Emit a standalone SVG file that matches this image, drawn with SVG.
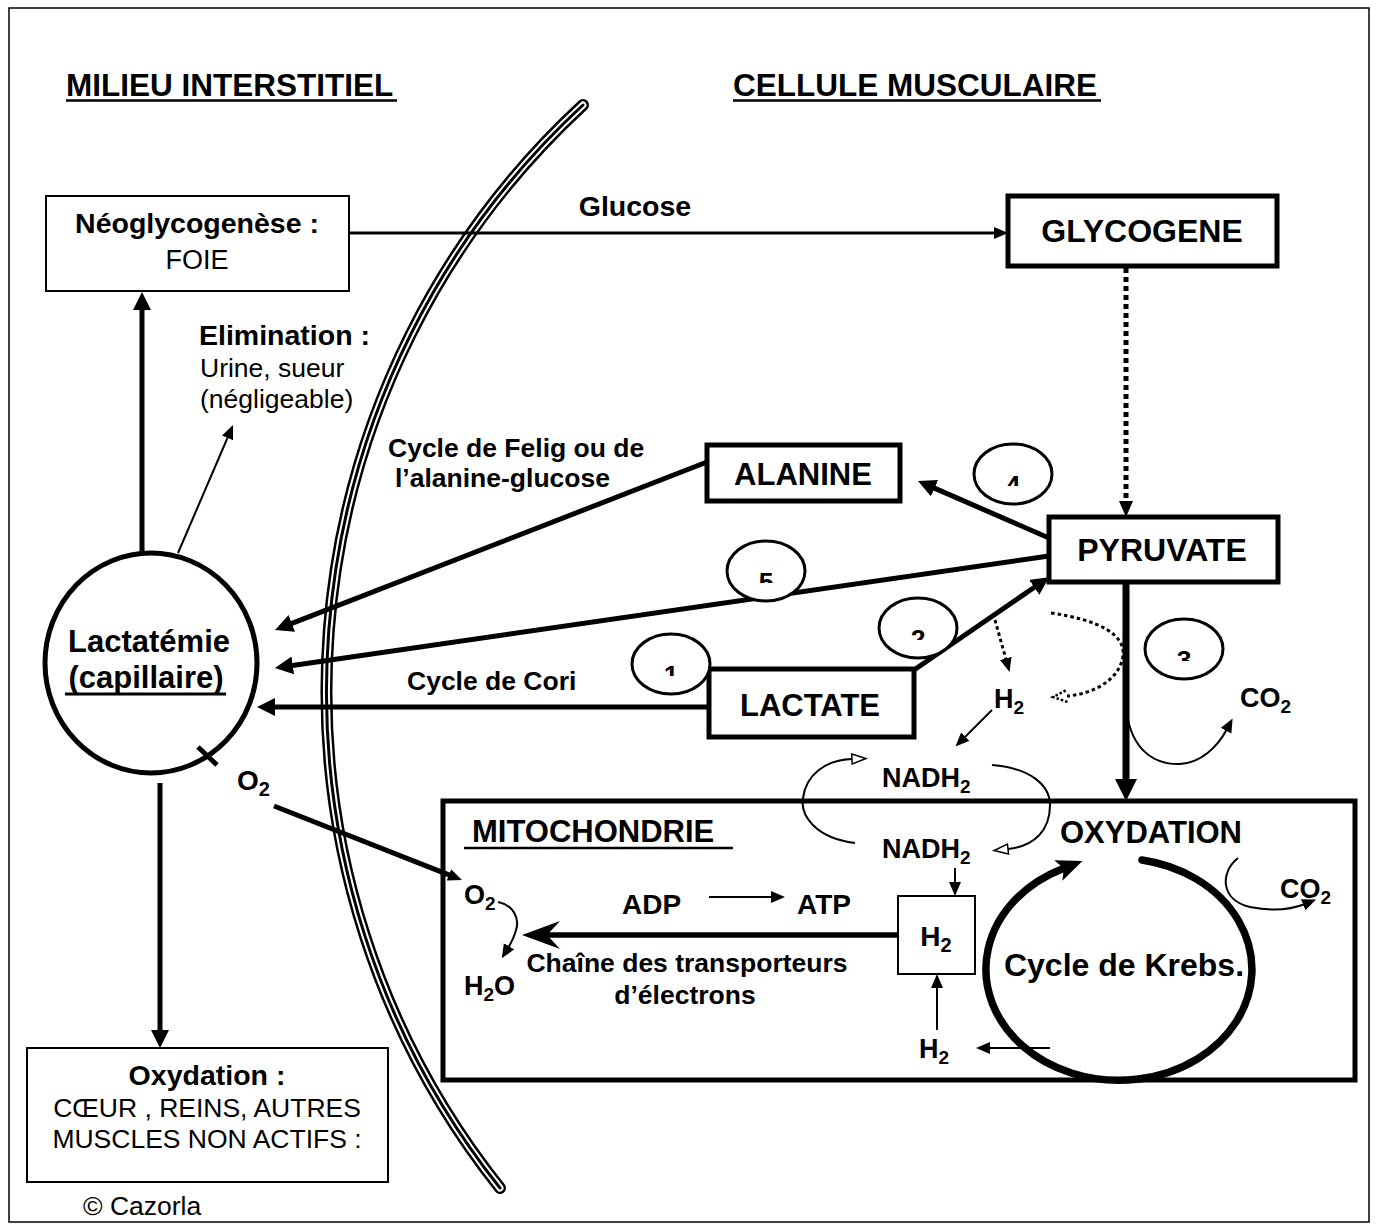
<svg xmlns="http://www.w3.org/2000/svg" width="1377" height="1230" viewBox="0 0 1377 1230">
<style>
text{font-family:"Liberation Sans",Arial,sans-serif;fill:#000}
.b{font-weight:bold}
.t{font-size:31.5px;font-weight:bold}
.n{font-size:31px;font-weight:bold}
.m{font-size:28.5px;font-weight:bold}
.s{font-size:26.5px;font-weight:bold}
.r{font-size:26.5px}
.bx{fill:#fff;stroke:#000;stroke-width:5}
.bt{fill:#fff;stroke:#000;stroke-width:2}
.ln{fill:none;stroke:#000}
.num{fill:#fff;stroke:#000;stroke-width:3}
</style>
<defs>
<marker id="a5" markerUnits="userSpaceOnUse" markerWidth="20" markerHeight="20" refX="2" refY="9" orient="auto"><path d="M0,0 L18,9 L0,18 z"/></marker>
<marker id="a7" markerUnits="userSpaceOnUse" markerWidth="24" markerHeight="24" refX="2" refY="11" orient="auto"><path d="M0,0 L22,11 L0,22 z"/></marker>
<marker id="as" markerUnits="userSpaceOnUse" markerWidth="16" markerHeight="14" refX="2" refY="6" orient="auto"><path d="M0,0 L14,6 L0,12 z"/></marker>
<marker id="ad" markerUnits="userSpaceOnUse" markerWidth="18" markerHeight="16" refX="2" refY="7" orient="auto"><path d="M0,0 L16,7 L0,14 z"/></marker>
<marker id="ak" markerUnits="userSpaceOnUse" markerWidth="30" markerHeight="26" refX="4" refY="11" orient="auto"><path d="M0,0 L26,11 L0,22 L6,11 z"/></marker>
<marker id="ho" markerUnits="userSpaceOnUse" markerWidth="18" markerHeight="14" refX="1" refY="6" orient="auto"><path d="M1,1 L15,6 L1,11 z" fill="#fff" stroke="#000" stroke-width="1.5"/></marker>
<marker id="hd" markerUnits="userSpaceOnUse" markerWidth="18" markerHeight="16" refX="1" refY="7" orient="auto"><path d="M1,1 L15,7 L1,13" fill="none" stroke="#000" stroke-width="2.5" stroke-dasharray="2.5,2"/></marker>
<clipPath id="c4"><rect x="960" y="430" width="110" height="56"/></clipPath>
<clipPath id="c5"><rect x="710" y="530" width="110" height="53"/></clipPath>
<clipPath id="c2"><rect x="860" y="590" width="110" height="50"/></clipPath>
<clipPath id="c1"><rect x="620" y="630" width="110" height="46"/></clipPath>
<clipPath id="c3"><rect x="1130" y="610" width="110" height="51"/></clipPath>
</defs>

<rect x="9" y="8" width="1360" height="1214" fill="#fff" stroke="#000" stroke-width="1.5"/>

<g id="membrane">
<path d="M583,105 A798,798 0 0 0 500,1188" fill="none" stroke="#000" stroke-width="12" stroke-linecap="round"/>
<path d="M583,105 A798,798 0 0 0 500,1188" fill="none" stroke="#fff" stroke-width="7" stroke-linecap="round"/>
<path d="M583,105 A798,798 0 0 0 500,1188" fill="none" stroke="#000" stroke-width="3" stroke-linecap="round"/>
</g>

<g id="titles">
<text class="t" x="66" y="96">MILIEU INTERSTITIEL</text>
<line x1="66" y1="100.5" x2="397" y2="100.5" stroke="#000" stroke-width="2.5"/>
<text class="t" x="733" y="96">CELLULE MUSCULAIRE</text>
<line x1="733" y1="100.5" x2="1101" y2="100.5" stroke="#000" stroke-width="2.5"/>
</g>

<g id="mitochondrie">
<rect class="bx" x="443" y="801" width="912" height="279"/>
<text class="n" x="472" y="842">MITOCHONDRIE</text>
<line x1="464" y1="848" x2="733" y2="848" stroke="#000" stroke-width="2.5"/>
<text class="n" x="1060" y="843">OXYDATION</text>
</g>

<g id="connectors">
<line class="ln" x1="349" y1="233" x2="996" y2="233" stroke-width="3" marker-end="url(#as)"/>
<line class="ln" x1="142" y1="553" x2="142" y2="308" stroke-width="5" marker-end="url(#a5)"/>
<line class="ln" x1="178" y1="553" x2="228.3" y2="436" stroke-width="2" marker-end="url(#as)"/>
<line class="ln" x1="707" y1="462" x2="290" y2="624.2" stroke-width="5" marker-end="url(#a5)"/>
<line class="ln" x1="1049" y1="538" x2="932.7" y2="487.4" stroke-width="5" marker-end="url(#a5)"/>
<line class="ln" x1="1049" y1="556" x2="290.8" y2="665.7" stroke-width="5" marker-end="url(#a5)"/>
<line class="ln" x1="914" y1="670" x2="1035.9" y2="586.2" stroke-width="5" marker-end="url(#a5)"/>
<line class="ln" x1="709" y1="707" x2="273" y2="707" stroke-width="5" marker-end="url(#a5)"/>
<line class="ln" x1="1126" y1="268" x2="1126" y2="503" stroke-width="5" stroke-dasharray="5,4" marker-end="url(#ad)"/>
<line class="ln" x1="1126" y1="582" x2="1126" y2="781" stroke-width="7" marker-end="url(#a7)"/>
<line class="ln" x1="995" y1="620" x2="1006.3" y2="660.4" stroke-width="3" stroke-dasharray="3.5,3" marker-end="url(#as)"/>
<path class="ln" d="M1051,613 C1100,620 1125,635 1123,655 C1121,678 1095,694 1067,696" stroke-width="3" stroke-dasharray="3.5,3" marker-end="url(#hd)"/>
<line class="ln" x1="992" y1="710" x2="964" y2="738" stroke-width="2" marker-end="url(#as)"/>
<path class="ln" d="M1126,703 C1128,745 1150,765 1180,764 C1200,763 1217,748 1227,729" stroke-width="2" marker-end="url(#as)"/>
<path class="ln" d="M855,843 C815,838 800,815 803,798 C806,775 825,760 852,759" stroke-width="2" marker-end="url(#ho)"/>
<path class="ln" d="M992,765 C1030,768 1050,785 1050,805 C1050,830 1035,846 1008,849" stroke-width="2" marker-end="url(#ho)"/>
<line class="ln" x1="955" y1="868" x2="955" y2="884" stroke-width="2" marker-end="url(#as)"/>
<line class="ln" x1="937" y1="1030" x2="937" y2="986" stroke-width="2" marker-end="url(#as)"/>
<line class="ln" x1="1050" y1="1048" x2="988" y2="1048" stroke-width="2" marker-end="url(#as)"/>
<path class="ln" d="M1142,860 A133,111 0 1 1 1062,869" stroke-width="7.5" stroke-linecap="round" marker-end="url(#ak)"/>
<path class="ln" d="M1238,858 C1220,872 1220,900 1250,907 C1270,911 1290,910 1305,904" stroke-width="2" marker-end="url(#as)"/>
<line class="ln" x1="274" y1="806" x2="450.8" y2="875.6" stroke-width="5" marker-end="url(#as)"/>
<path class="ln" d="M498,902 C513,905 520,918 516,930 C514,938 511,943 508,948" stroke-width="2" marker-end="url(#as)"/>
<line class="ln" x1="709" y1="897" x2="773" y2="897" stroke-width="2" marker-end="url(#as)"/>
<line class="ln" x1="897" y1="935" x2="538" y2="935" stroke-width="5.5"/>
<line class="ln" x1="897" y1="935" x2="545" y2="935" stroke="#fff" stroke-width="2.2"/>
<path d="M522,935 L560,921 L547,935 L560,949 z"/>
<line class="ln" x1="160" y1="783" x2="160" y2="1032" stroke-width="5" marker-end="url(#a5)"/>
</g>

<g id="neoglycogenese">
<rect class="bt" x="46" y="196" width="303" height="95"/>
<text class="m" x="197" y="233" text-anchor="middle">Néoglycogenèse :</text>
<text class="r" x="197" y="269" text-anchor="middle" style="font-size:27px">FOIE</text>
</g>
<g id="glucose-label"><text class="m" x="635" y="216" text-anchor="middle">Glucose</text></g>

<g id="glycogene">
<rect class="bx" x="1008" y="196" width="269" height="70"/>
<text class="n" x="1142" y="242" text-anchor="middle" style="font-size:32px">GLYCOGENE</text>
</g>

<g id="elimination">
<text class="m" x="199" y="345">Elimination :</text>
<text class="r" x="200" y="377">Urine, sueur</text>
<text class="r" x="200" y="408">(négligeable)</text>
</g>

<g id="felig-label">
<text class="s" x="388" y="457">Cycle de Felig ou de</text>
<text class="s" x="395" y="487">l’alanine-glucose</text>
</g>
<g id="cori-label"><text class="s" x="407" y="690">Cycle de Cori</text></g>

<g id="alanine">
<rect class="bx" x="707" y="445" width="193" height="56"/>
<text class="n" x="803" y="485" text-anchor="middle">ALANINE</text>
</g>
<g id="pyruvate">
<rect class="bx" x="1049" y="517" width="229" height="65"/>
<text class="n" x="1162" y="561" text-anchor="middle" style="font-size:32px">PYRUVATE</text>
</g>
<g id="lactate">
<rect class="bx" x="709" y="669" width="205" height="68"/>
<text class="n" x="810" y="716" text-anchor="middle">LACTATE</text>
</g>

<g id="lactatemie">
<ellipse cx="151" cy="663" rx="106" ry="110" fill="#fff" stroke="#000" stroke-width="5"/>
<line x1="198" y1="747" x2="217" y2="765" stroke="#000" stroke-width="5"/>
<text class="n" x="149" y="652" text-anchor="middle">Lactatémie</text>
<text class="n" x="146" y="688" text-anchor="middle">(capillaire)</text>
<line x1="65" y1="694" x2="226" y2="694" stroke="#000" stroke-width="3"/>
</g>

<g id="n4"><ellipse class="num" cx="1013" cy="474" rx="39" ry="30"/><text class="s" x="1013" y="494" text-anchor="middle" clip-path="url(#c4)">4</text></g>
<g id="n5"><ellipse class="num" cx="766" cy="571" rx="39" ry="30"/><text class="s" x="766" y="591" text-anchor="middle" clip-path="url(#c5)">5</text></g>
<g id="n2"><ellipse class="num" cx="918" cy="628" rx="39" ry="30"/><text class="s" x="918" y="648" text-anchor="middle" clip-path="url(#c2)">2</text></g>
<g id="n1"><ellipse class="num" cx="671" cy="664" rx="39" ry="30"/><text class="s" x="671" y="684" text-anchor="middle" clip-path="url(#c1)">1</text></g>
<g id="n3"><ellipse class="num" cx="1184" cy="649" rx="39" ry="30"/><text class="s" x="1184" y="669" text-anchor="middle" clip-path="url(#c3)">3</text></g>

<g id="h2-top"><text class="s" x="994" y="708" style="font-size:27px">H<tspan dy="6" font-size="19">2</tspan></text></g>
<g id="co2-top"><text class="s" x="1240" y="707" style="font-size:27px">CO<tspan dy="6" font-size="19">2</tspan></text></g>
<g id="nadh2-top"><text class="s" x="882" y="787" style="font-size:27px">NADH<tspan dy="6" font-size="19">2</tspan></text></g>
<g id="nadh2-bottom"><text class="s" x="882" y="858" style="font-size:27px">NADH<tspan dy="6" font-size="19">2</tspan></text></g>

<g id="o2-out"><text class="s" x="237" y="790" style="font-size:28px">O<tspan dy="6" font-size="20">2</tspan></text></g>
<g id="o2-in"><text class="s" x="464" y="904" style="font-size:27px">O<tspan dy="6" font-size="19">2</tspan></text></g>
<g id="h2o"><text class="s" x="464" y="995" style="font-size:27px">H<tspan dy="6" font-size="19">2</tspan><tspan dy="-6">O</tspan></text></g>
<g id="adp"><text class="s" x="622" y="914" style="font-size:28px">ADP</text></g>
<g id="atp"><text class="s" x="797" y="914" style="font-size:28px">ATP</text></g>
<g id="chaine-label">
<text class="s" x="687" y="972" text-anchor="middle">Chaîne des transporteurs</text>
<text class="s" x="685" y="1004" text-anchor="middle">d’électrons</text>
</g>

<g id="h2-box">
<rect class="bt" x="898" y="896" width="77" height="78"/>
<text class="s" x="936" y="946" text-anchor="middle" style="font-size:28px">H<tspan dy="6" font-size="20">2</tspan></text>
</g>
<g id="h2-bottom"><text class="s" x="919" y="1058" style="font-size:27px">H<tspan dy="6" font-size="19">2</tspan></text></g>

<g id="krebs"><text class="n" x="1124" y="976" text-anchor="middle" style="font-size:32px">Cycle de Krebs.</text></g>
<g id="co2-krebs"><text class="s" x="1280" y="898" style="font-size:27px">CO<tspan dy="6" font-size="19">2</tspan></text></g>

<g id="oxydation-organes">
<rect class="bt" x="27" y="1048" width="361" height="134"/>
<text class="m" x="207" y="1085" text-anchor="middle">Oxydation :</text>
<text class="r" x="207" y="1117" text-anchor="middle">CŒUR , REINS, AUTRES</text>
<text class="r" x="207" y="1148" text-anchor="middle">MUSCLES NON ACTIFS :</text>
</g>
<g id="copyright"><text class="r" x="83" y="1215">© Cazorla</text></g>
</svg>
